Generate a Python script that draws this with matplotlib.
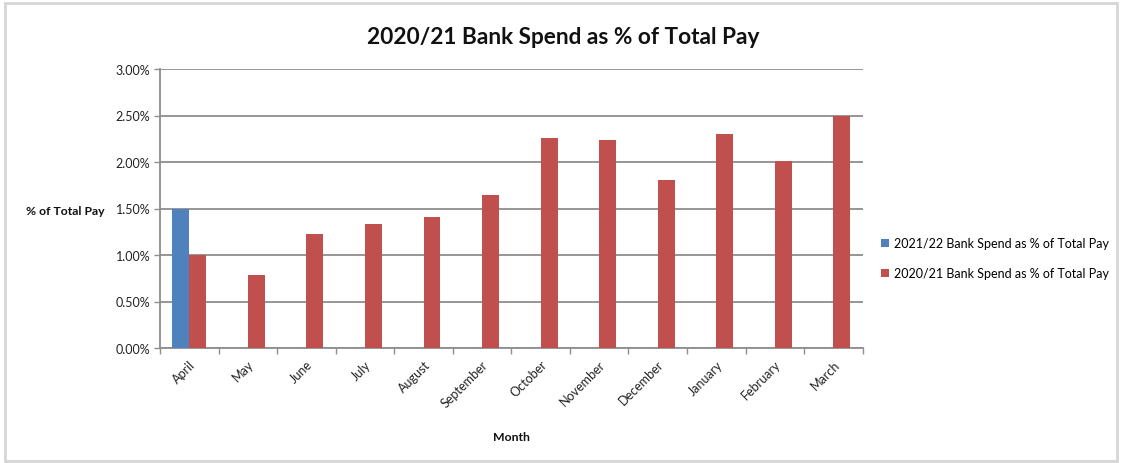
import matplotlib
matplotlib.use("Agg")
import matplotlib.pyplot as plt
from matplotlib.patches import Rectangle
from matplotlib.ticker import FuncFormatter, FixedLocator
import numpy as np

months = ["April", "May", "June", "July", "August", "September", "October",
          "November", "December", "January", "February", "March"]
spend_2021_22 = [1.50, np.nan, np.nan, np.nan, np.nan, np.nan, np.nan,
                 np.nan, np.nan, np.nan, np.nan, np.nan]
spend_2020_21 = [1.00, 0.78, 1.23, 1.33, 1.41, 1.65, 2.26, 2.24, 1.81, 2.30, 2.01, 2.50]
y_ticks = [0.0, 0.5, 1.0, 1.5, 2.0, 2.5, 3.0]

label_2122 = "2021/22 Bank Spend as % of Total Pay"
label_2021 = "2020/21 Bank Spend as % of Total Pay"

BLUE = "#4F81BD"
RED = "#C0504D"
GRID = "#8E8E8E"
FONT = ["Lato", "DejaVu Sans"]

plt.rcParams["font.family"] = FONT

W, H = 1121, 464
fig = plt.figure(figsize=(W / 100, H / 100), dpi=100)
fig.patch.set_facecolor("white")

# light frame around the chart area
fig.add_artist(Rectangle((5 / W, 2 / H), (W - 9) / W, (H - 6) / H,
                         transform=fig.transFigure, fill=False,
                         edgecolor="#D6D6D6", linewidth=2))

ax = fig.add_axes([160 / W, (H - 349) / H, (862.7 - 160) / W, (349 - 70) / H])

x = np.arange(len(months))
bw = 0.29
ax.bar(x - bw / 2, spend_2021_22, width=bw, color=BLUE, label=label_2122, zorder=3)
ax.bar(x + bw / 2, spend_2020_21, width=bw, color=RED, label=label_2021, zorder=3)

ax.set_xlim(-0.5, len(months) - 0.5)
ax.set_ylim(0, 3.0)
ax.set_yticks(y_ticks)
ax.yaxis.set_major_formatter(FuncFormatter(lambda v, p: f"{v:.2f}%"))
ax.yaxis.grid(True, color=GRID, linewidth=1.3, zorder=0)
ax.set_axisbelow(True)

# category labels at centres, tick marks at category boundaries
ax.set_xticks(x)
ax.set_xticklabels(months, rotation=45, ha="right", rotation_mode="anchor",
                   fontsize=9, color="#222222")
ax.tick_params(axis="x", which="major", length=0, pad=7)
ax.xaxis.set_minor_locator(FixedLocator(np.arange(-0.5, len(months), 1.0)))
ax.tick_params(axis="x", which="minor", length=4, width=1, color=GRID, direction="out")
ax.tick_params(axis="y", length=4, width=1, color=GRID, labelsize=9,
               labelcolor="#222222", pad=3)

for side in ("top", "right"):
    ax.spines[side].set_visible(False)
for side in ("left", "bottom"):
    ax.spines[side].set_color(GRID)
    ax.spines[side].set_linewidth(1.3)

fig.text(563 / W, 1 - 37 / H, "2020/21 Bank Spend as % of Total Pay",
         ha="center", va="center", fontsize=16.3, fontweight="bold", color="#111111")
fig.text(65 / W, 1 - 212 / H, "% of Total Pay", ha="center", va="center",
         fontsize=8.8, fontweight="bold", color="#111111")
fig.text(511 / W, 1 - 438 / H, "Month", ha="center", va="center",
         fontsize=8.8, fontweight="bold", color="#111111")

fig.legend(loc="center left", bbox_to_anchor=(881 / W, 1 - 259 / H),
           frameon=False, fontsize=9, handlelength=0.6, handleheight=0.6,
           handletextpad=0.4, labelspacing=1.45, borderaxespad=0, borderpad=0)

fig.savefig("out.png", dpi=100, facecolor="white")
